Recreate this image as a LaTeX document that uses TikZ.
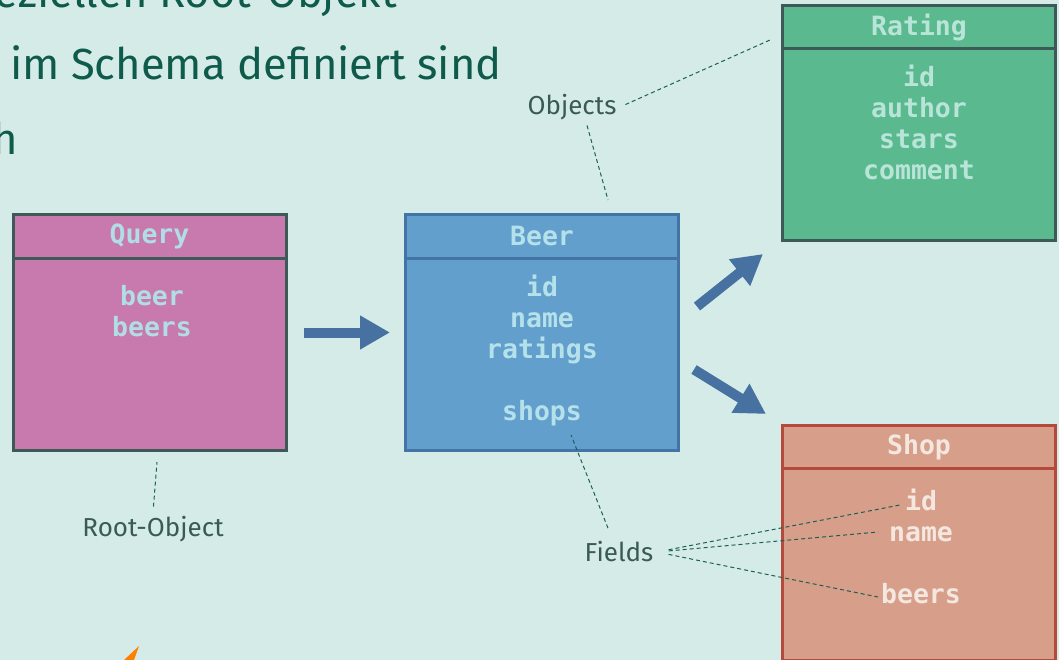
\documentclass[tikz,border=0pt]{standalone}
\usepackage{fontspec}
\setmainfont{Fira Sans}
\setmonofont{DejaVu Sans Mono}
\usetikzlibrary{calc,arrows.meta}

\definecolor{bg}{HTML}{D5EBE8}
\definecolor{slidetext}{HTML}{0E5A4B}
\definecolor{labeltext}{HTML}{3A5A55}
\definecolor{dashcol}{HTML}{1E5F55}
\definecolor{arrowcol}{HTML}{4671A0}
\definecolor{queryfill}{HTML}{C879AE}
\definecolor{queryline}{HTML}{3D5A58}
\definecolor{querytext}{HTML}{B0DEE4}
\definecolor{beerfill}{HTML}{629FCC}
\definecolor{beerline}{HTML}{4274A6}
\definecolor{beertext}{HTML}{B5E1EA}
\definecolor{ratingfill}{HTML}{5BB98F}
\definecolor{ratingline}{HTML}{3D5A58}
\definecolor{ratingtext}{HTML}{B8E5D8}
\definecolor{shopfill}{HTML}{D79E89}
\definecolor{shopline}{HTML}{B5493B}
\definecolor{shoptext}{HTML}{F3E7DF}

\begin{document}
\begin{tikzpicture}[
 x=1pt, y=-1pt,
 >={Triangle[length=30pt,width=32pt]},
 box/.style={draw,rectangle,line width=3pt,minimum width=273pt,minimum height=235pt,inner sep=0pt},
 head/.style={draw,rectangle,line width=3pt,minimum width=273pt,minimum height=43pt,anchor=north,
   font=\ttfamily\bfseries\fontsize{26.5}{31}\selectfont},
 fields/.style={anchor=north,align=center,inner sep=0pt,font=\ttfamily\bfseries\fontsize{26.5}{31}\selectfont},
 slide/.style={inner sep=0pt,text=slidetext,font=\fontsize{43.5}{52}\selectfont},
 label/.style={text=labeltext,font=\fontsize{26}{31}\selectfont},
 pointer/.style={draw=dashcol,line width=1pt,dash pattern=on 4pt off 3pt},
 flow/.style={->,draw=arrowcol,line width=10pt}
]
\path[use as bounding box,fill=bg] (0,0) rectangle (1059,660);
\clip (0,0) rectangle (1059,660);

% slide text behind the diagram
\node (line-a) [slide,anchor=base east] at (397,8) {speziellen Root-Objekt};
\node (line-b) [slide,anchor=base west] at (10,80) {im Schema definiert sind};
\node (line-c) [slide,anchor=base east] at (18,155) {h};

% object boxes
\node (query) [box,draw=queryline,fill=queryfill] at (149.5,332.5) {};
\node (query-head) [head,draw=queryline,fill=queryfill,text=querytext] at (query.north) {Query};
\node (query-fields) [fields,text=querytext] at (152,284) {\strut beer\\beers};

\node (beer) [box,draw=beerline,fill=beerfill] at (542,332.5) {};
\node (beer-head) [head,draw=beerline,fill=beerfill,text=beertext] at (beer.north) {Beer};
\node (beer-fields) [fields,text=beertext] at (542,275) {\strut id\\name\\ratings\\ \\shops};

\node (rating) [box,draw=ratingline,fill=ratingfill] at (919,123) {};
\node (rating-head) [head,draw=ratingline,fill=ratingfill,text=ratingtext] at (rating.north) {Rating};
\node (rating-fields) [fields,text=ratingtext] at (919,65) {\strut id\\author\\stars\\comment};

\node (shop) [box,draw=shopline,fill=shopfill] at (919,543) {};
\node (shop-head) [head,draw=shopline,fill=shopfill,text=shoptext] at (shop.north) {Shop};
\node (shop-fields) [fields,text=shoptext] at (921,489) {\strut id\\name\\ \\beers};

% arrows between the objects
\draw[flow] ($(query.east)+(16,0)$) -- ($(beer.west)+(-14,0)$);
\draw[flow] ($(beer.east)+(17,-26)$) -- ($(rating.south west)+(-18,12)$);
\draw[flow] ($(beer.east)+(14,37)$) -- ($(shop.north west)+(-15,-10)$);

% labels
\node (objects) [label] at (572,107) {Objects};
\node (root) [label] at (153,529) {Root-Object};
\node (fieldlabel) [label] at (619,552) {Fields};

\coordinate (obj-rating) at (770,40);
\coordinate (obj-beer) at (608,200);
\coordinate (root-query) at (157,462);
\coordinate (fld-shops) at (571,435);
\coordinate (fld-id) at (900,505);
\coordinate (fld-name) at (878,532);
\coordinate (fld-beers) at (878,597);

\draw[pointer,shorten <=6pt] (objects.east) -- (obj-rating);
\draw[pointer] ($(objects.south)+(15,2)$) -- (obj-beer);
\draw[pointer,shorten <=6pt] (root.north) -- (root-query);
\draw[pointer] ($(fieldlabel.north)+(-11,-10)$) -- (fld-shops);
\foreach \f in {fld-id,fld-name,fld-beers}
  \draw[pointer,shorten <=12pt] (fieldlabel.east) -- (\f);

% bit of a drawing at the bottom edge
\fill[orange] (124,660) -- (139,646) -- (134,660) -- cycle;
\end{tikzpicture}
\end{document}
